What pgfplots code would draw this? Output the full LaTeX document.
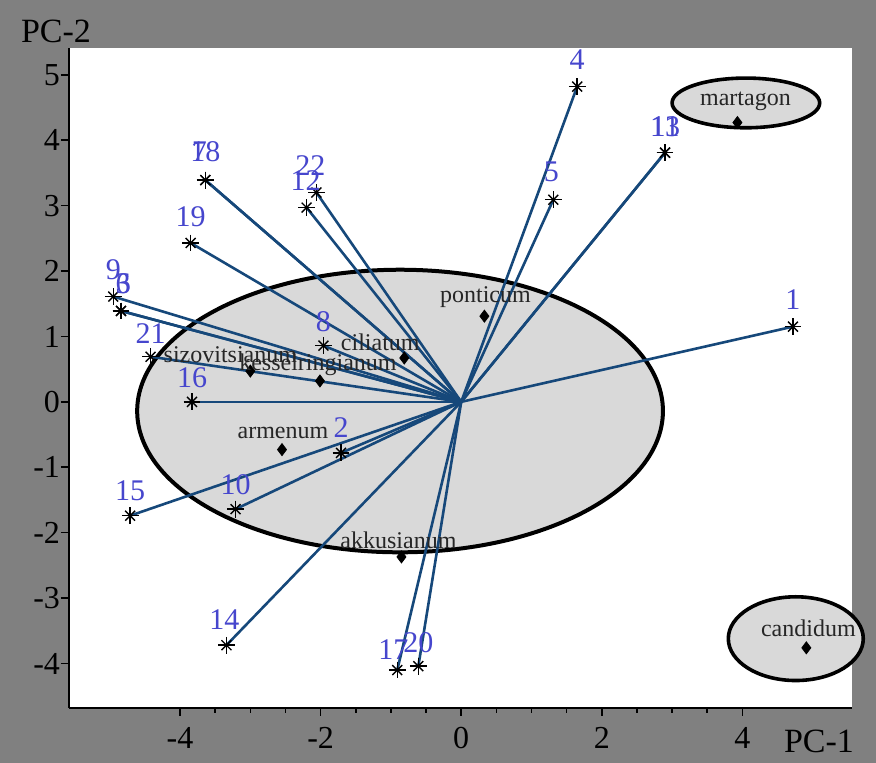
\documentclass[border=0pt]{standalone}
\usepackage{fontspec}
\setmainfont{Liberation Serif}
\usepackage{pgfplots}
\usepackage{pgfplotstable}
\pgfplotsset{compat=1.18}
\definecolor{bggray}{RGB}{128,128,128}
\definecolor{numblue}{RGB}{70,70,205}
\definecolor{linblue}{RGB}{22,72,122}
\definecolor{ellgray}{RGB}{217,217,217}

% variable loadings (PC-1, PC-2), label, label offsets (pt)
\pgfplotstableread{
x y lab dx dy
4.72 1.15 1 0 13.5
1.65 4.82 4 0 13.5
1.31 3.09 5 -1 14
2.90 3.81 11 0 13
2.90 3.81 13 0 13
-3.64 3.39 18 0 14
-3.64 3.39 7 -3 14
-3.85 2.43 19 0 13
-2.06 3.20 22 -3 13.5
-2.20 2.97 12 -0.5 13.5
-4.95 1.61 9 0 13.5
-4.84 1.39 6 1 13.5
-4.84 1.39 3 1 13.5
-1.96 0.86 8 0 12
-4.42 0.69 21 0 11.5
-3.83 0.00 16 0 12
-1.71 -0.78 2 0 12.5
-3.21 -1.64 10 0 12
-4.71 -1.74 15 0 12.5
-3.34 -3.72 14 -1 13
-0.91 -4.10 17 -2 10
-0.61 -4.04 20 0 11.5
}\stars

% species scores
\pgfplotstableread{
x y lab dx dy
3.93 4.27 martagon 4 10.5
4.91 -3.76 candidum 1 10
0.33 1.31 ponticum 0.5 9.5
-0.81 0.67 ciliatum -12 8
-3.00 0.47 sizovitsianum -10 8
-2.01 0.32 kesselringianum -1 8
-2.55 -0.73 armenum 0.5 8.5
-0.85 -2.37 akkusianum -1.5 8.5
}\species

\begin{document}
\begin{tikzpicture}
\fill[bggray] (0,0) rectangle (438pt,381.5pt);
\begin{axis}[
  at={(34.5pt,27.5pt)}, anchor=south west,
  scale only axis, width=391.5pt, height=330pt,
  xmin=-5.58, xmax=5.56, ymin=-4.68, ymax=5.41,
  axis lines*=left,
  axis line style={line width=1.2pt, black},
  axis background/.style={fill=white},
  clip=false,
  xtick={-4,-2,0,2,4},
  ytick={-4,-3,-2,-1,0,1,2,3,4,5},
  minor x tick num=3,
  tick align=outside,
  major tick length=4pt, minor tick length=2.5pt,
  tick style={black, line width=0.8pt},
  /pgf/number format/assume math mode=true,
  ticklabel style={font=\fontsize{16}{18}\selectfont},
  x tick label style={anchor=north, yshift=-2pt},
  y tick label style={anchor=east, xshift=3pt},
]
% ellipses
\draw[line width=2pt, fill=ellgray] (axis cs:-0.87,-0.14) ellipse [x radius=3.74, y radius=2.16];
\draw[line width=1.8pt, fill=ellgray] (axis cs:4.05,4.57) ellipse [x radius=1.05, y radius=0.38];
\draw[line width=1.8pt, fill=ellgray] (axis cs:4.76,-3.62) ellipse [x radius=0.96, y radius=0.64];

% loading vectors from origin
\addplot[linblue, line width=1.3pt, mark=none, quiver={u=\thisrow{x}, v=\thisrow{y}}]
  table[x expr=0, y expr=0] {\stars};

% star marks (8 arms)
\addplot[only marks, mark=+, mark size=4.2pt, black, mark options={line width=0.7pt}] table[x=x,y=y] {\stars};
\addplot[only marks, mark=x, mark size=3.5pt, black, mark options={line width=0.7pt}] table[x=x,y=y] {\stars};

% variable labels
\addplot[draw=none, mark=none,
  nodes near coords, point meta=explicit symbolic,
  visualization depends on={\thisrow{dx}\as\dx},
  visualization depends on={\thisrow{dy}\as\dy},
  every node near coord/.style={anchor=center, xshift=\dx pt, yshift=\dy pt, inner sep=0pt,
     text=numblue, font=\fontsize{15}{17}\selectfont}]
  table[x=x,y=y,meta=lab] {\stars};

% species points
\addplot[only marks, mark=diamond*, mark size=3pt, black] table[x=x,y=y] {\species};
\addplot[draw=none, mark=none,
  nodes near coords, point meta=explicit symbolic,
  visualization depends on={\thisrow{dx}\as\dx},
  visualization depends on={\thisrow{dy}\as\dy},
  every node near coord/.style={anchor=center, xshift=\dx pt, yshift=\dy pt, inner sep=0pt,
     text=black!85, font=\fontsize{12}{14}\selectfont}]
  table[x=x,y=y,meta=lab] {\species};
\end{axis}
\node[font=\fontsize{17}{19}\selectfont] at (28pt,366pt) {PC-2};
\node[font=\fontsize{17}{19}\selectfont] at (409.5pt,11pt) {PC-1};
\end{tikzpicture}
\end{document}
